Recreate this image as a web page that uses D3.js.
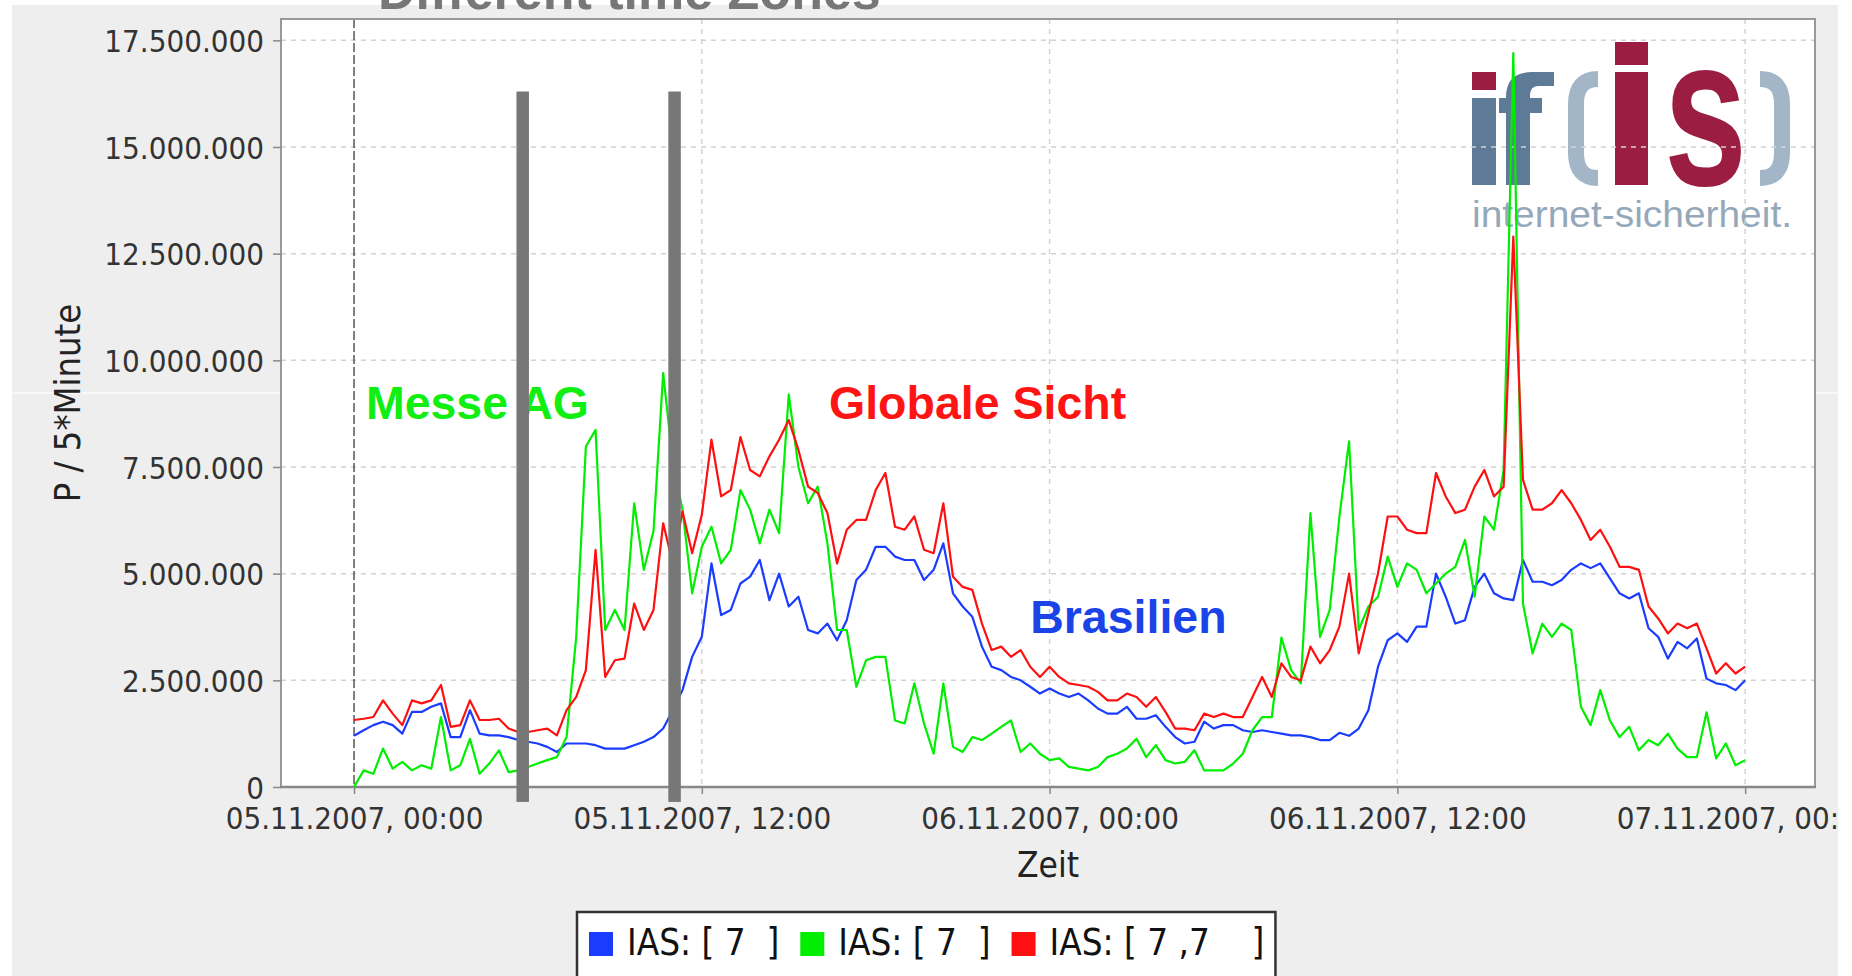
<!DOCTYPE html>
<html>
<head>
<meta charset="utf-8">
<script src="https://cdn.jsdelivr.net/npm/d3@7"></script>
<style>
  html, body { margin: 0; padding: 0; background: #fff; }
  svg { display: block; }
  .cond { font-family: "DejaVu Sans Condensed", "DejaVu Sans", sans-serif; font-stretch: condensed; }
</style>
</head>
<body>
<svg id="chart" width="1852" height="976"></svg>
<script>
// Samples every 20 minutes starting 05.11.2007 00:00, values in millions of packets per 5 minutes
const startTime = Date.UTC(2007, 10, 5, 0, 0);
const stepMinutes = 20;

const brasilien = [
  1.20, 1.33, 1.45, 1.53, 1.45, 1.25, 1.76, 1.76, 1.88, 1.96, 1.17, 1.17, 1.80, 1.25, 1.21, 1.21,
  1.17, 1.10, 1.06, 1.02, 0.94, 0.82, 1.02, 1.02, 1.02, 0.98, 0.90, 0.90, 0.90, 0.98, 1.06, 1.17,
  1.37, 1.80, 2.27, 3.05, 3.52, 5.24, 4.03, 4.15, 4.77, 4.93, 5.32, 4.38, 5.00, 4.23, 4.46, 3.68,
  3.60, 3.83, 3.44, 3.91, 4.85, 5.09, 5.63, 5.63, 5.40, 5.32, 5.32, 4.85, 5.09, 5.71, 4.54, 4.23,
  3.99, 3.29, 2.82, 2.74, 2.58, 2.50, 2.35, 2.19, 2.31, 2.19, 2.11, 2.19, 2.03, 1.84, 1.72, 1.72,
  1.88, 1.60, 1.60, 1.68, 1.41, 1.17, 1.02, 1.06, 1.53, 1.37, 1.45, 1.45, 1.33, 1.29, 1.33, 1.29,
  1.25, 1.21, 1.21, 1.17, 1.10, 1.10, 1.27, 1.20, 1.37, 1.80, 2.82, 3.44, 3.60, 3.40, 3.76, 3.76,
  5.00, 4.46, 3.83, 3.91, 4.69, 5.00, 4.54, 4.42, 4.38, 5.32, 4.81, 4.81, 4.73, 4.85, 5.09, 5.24,
  5.13, 5.24, 4.89, 4.54, 4.42, 4.54, 3.72, 3.52, 3.01, 3.40, 3.25, 3.48, 2.54, 2.43, 2.39, 2.27,
  2.50
];

const messeAG = [
  0.00, 0.39, 0.31, 0.90, 0.43, 0.59, 0.39, 0.51, 0.43, 1.64, 0.39, 0.51, 1.13, 0.31, 0.55, 0.86,
  0.35, 0.39, 0.47, 0.55, 0.63, 0.70, 1.17, 3.52, 7.98, 8.37, 3.68, 4.15, 3.68, 6.65, 5.09, 6.00,
  9.70, 7.60, 6.50, 4.54, 5.63, 6.10, 5.24, 5.56, 6.96, 6.50, 5.71, 6.50, 5.95, 9.20, 7.50, 6.65,
  7.04, 5.71, 3.68, 3.68, 2.35, 2.97, 3.05, 3.05, 1.56, 1.49, 2.43, 1.49, 0.78, 2.43, 0.94, 0.82,
  1.17, 1.10, 1.25, 1.41, 1.56, 0.82, 1.02, 0.78, 0.63, 0.67, 0.47, 0.43, 0.39, 0.47, 0.70, 0.78,
  0.90, 1.13, 0.70, 0.98, 0.63, 0.55, 0.59, 0.86, 0.39, 0.39, 0.39, 0.55, 0.78, 1.33, 1.64, 1.64,
  3.50, 2.74, 2.43, 6.42, 3.52, 4.15, 6.34, 8.10, 3.68, 4.23, 4.46, 5.40, 4.69, 5.24, 5.09, 4.54,
  4.77, 5.00, 5.16, 5.79, 4.46, 6.34, 6.03, 7.43, 17.20, 4.30, 3.13, 3.83, 3.52, 3.83, 3.68, 1.88,
  1.45, 2.27, 1.56, 1.17, 1.41, 0.86, 1.10, 0.98, 1.25, 0.90, 0.70, 0.70, 1.75, 0.67, 1.02, 0.51,
  0.63
];

const globaleSicht = [
  1.57, 1.60, 1.64, 2.03, 1.72, 1.45, 2.03, 1.96, 2.03, 2.39, 1.41, 1.45, 2.03, 1.57, 1.57, 1.60,
  1.37, 1.29, 1.29, 1.33, 1.37, 1.21, 1.80, 2.11, 2.74, 5.56, 2.58, 2.97, 3.01, 4.30, 3.68, 4.15,
  6.18, 5.24, 6.46, 5.48, 6.38, 8.14, 6.81, 6.96, 8.20, 7.43, 7.28, 7.75, 8.14, 8.60, 7.90, 7.04,
  6.89, 6.42, 5.24, 6.03, 6.26, 6.26, 6.96, 7.36, 6.10, 6.03, 6.34, 5.56, 5.48, 6.65, 4.93, 4.69,
  4.62, 3.83, 3.21, 3.29, 3.05, 3.21, 2.82, 2.58, 2.82, 2.58, 2.43, 2.39, 2.35, 2.23, 2.03, 2.03,
  2.19, 2.11, 1.88, 2.11, 1.76, 1.37, 1.37, 1.33, 1.72, 1.64, 1.72, 1.64, 1.64, 2.11, 2.58, 2.11,
  2.90, 2.58, 2.50, 3.29, 2.90, 3.21, 3.76, 5.00, 3.13, 4.07, 5.01, 6.34, 6.34, 6.03, 5.95, 5.95,
  7.36, 6.81, 6.42, 6.50, 7.04, 7.43, 6.81, 7.04, 12.90, 7.20, 6.50, 6.50, 6.65, 6.96, 6.65, 6.26,
  5.79, 6.03, 5.63, 5.16, 5.16, 5.09, 4.23, 3.95, 3.60, 3.83, 3.72, 3.83, 3.25, 2.66, 2.90, 2.66,
  2.82
];

const seriesNames = ["IAS: [ 7  ]", "IAS: [ 7  ]", "IAS: [ 7 ,7    ]"];
const seriesColors = ["#1a3cff", "#00ee00", "#ff1010"];

const yTicks = [0, 2500000, 5000000, 7500000, 10000000, 12500000, 15000000, 17500000];
const xTickHours = [0, 12, 24, 36, 48];

// hand-drawn annotations on the slide (hours since start, values in millions)
const labels = [
  { text: "Messe AG", hour: 0.41, value: 8.62, color: "#11ee11" },
  { text: "Globale Sicht", hour: 16.39, value: 8.62, color: "#ff1414" },
  { text: "Brasilien", hour: 23.33, value: 3.61, color: "#1a44e8" }
];
const markerBars = [
  { hour: 5.82, top: 16.3, bottom: -0.35 },
  { hour: 11.06, top: 16.3, bottom: -0.35 }
];

const W = 1852, H = 976;
const plot = { left: 281, right: 1815, top: 19, bottom: 787 };
const hourMs = 3600 * 1000;

const de = d3.formatLocale({ decimal: ",", thousands: ".", grouping: [3], currency: ["", "€"] });
const yFmt = de.format(",d");
const xFmt = d3.utcFormat("%d.%m.%Y, %H:%M");

const svg = d3.select("#chart");
svg.append("rect").attr("width", W).attr("height", H).attr("fill", "#fff");

svg.append("defs").append("clipPath").attr("id", "panelClip")
  .append("rect").attr("x", 12).attr("y", 5).attr("width", 1826).attr("height", H - 5);

const g = svg.append("g").attr("clip-path", "url(#panelClip)");
g.append("rect").attr("x", 12).attr("y", 5).attr("width", 1826).attr("height", H - 5).attr("fill", "#eeeeee");
// faint scan seam across the margins
g.append("line").attr("x1", 12).attr("x2", 1838).attr("y1", 393).attr("y2", 393)
  .attr("stroke", "#fbfbfb").attr("stroke-width", 1.5);

const x = d3.scaleUtc()
  .domain([new Date(startTime - 2.52 * hourMs), new Date(startTime + 50.41 * hourMs)])
  .range([plot.left, plot.right]);
const y = d3.scaleLinear().domain([0, 18]).range([plot.bottom, plot.top]);
const hourX = h => x(new Date(startTime + h * hourMs));

g.append("rect")
  .attr("x", plot.left).attr("y", plot.top)
  .attr("width", plot.right - plot.left).attr("height", plot.bottom - plot.top)
  .attr("fill", "#fff");

// if(is) logo in the plot corner
const logo = g.append("g");
const steel = "#5d7a97", light = "#a3b6c7", maroon = "#9b1d42";
logo.append("rect").attr("x", 1472).attr("y", 72).attr("width", 24).attr("height", 18).attr("fill", maroon);
logo.append("rect").attr("x", 1472).attr("y", 98).attr("width", 24).attr("height", 87).attr("fill", steel);
logo.append("path")
  .attr("d", "M1506,185 L1506,97 Q1506,72 1532,72 L1554,72 L1554,86 L1538,86 Q1530,86 1530,96 L1530,98 L1542,98 L1542,113 L1530,113 L1530,185 Z M1499,98 L1506,98 L1506,113 L1499,113 Z")
  .attr("fill", steel);
logo.append("path").attr("d", "M1598,79 Q1576,79 1576,104 L1576,153 Q1576,178 1598,178")
  .attr("fill", "none").attr("stroke", light).attr("stroke-width", 16);
logo.append("rect").attr("x", 1615).attr("y", 42).attr("width", 33).attr("height", 23).attr("fill", maroon);
logo.append("rect").attr("x", 1615).attr("y", 72).attr("width", 33).attr("height", 113).attr("fill", maroon);
logo.append("text").attr("x", 1664).attr("y", 185)
  .attr("font-family", "Liberation Sans, Arial, sans-serif").attr("font-weight", "bold")
  .attr("font-size", 214).attr("textLength", 83).attr("lengthAdjust", "spacingAndGlyphs")
  .attr("fill", maroon).text("s");
logo.append("path").attr("d", "M1760,79 Q1782,79 1782,104 L1782,153 Q1782,178 1760,178")
  .attr("fill", "none").attr("stroke", light).attr("stroke-width", 16);
logo.append("text").attr("x", 1472).attr("y", 227)
  .attr("font-family", "Liberation Sans, Arial, sans-serif").attr("font-size", 36)
  .attr("textLength", 320).attr("lengthAdjust", "spacingAndGlyphs")
  .attr("fill", "#95a8ba").text("internet-sicherheit.");

// grid
g.append("g").selectAll("line").data(yTicks.filter(d => d > 0)).join("line")
  .attr("x1", plot.left).attr("x2", plot.right)
  .attr("y1", d => y(d / 1e6)).attr("y2", d => y(d / 1e6))
  .attr("stroke", "#d2d2d2").attr("stroke-width", 1.5).attr("stroke-dasharray", "5,5");
g.append("g").selectAll("line").data(xTickHours).join("line")
  .attr("x1", d => hourX(d)).attr("x2", d => hourX(d))
  .attr("y1", plot.top).attr("y2", plot.bottom)
  .attr("stroke", (d, i) => i === 0 ? "#555" : "#d2d2d2")
  .attr("stroke-width", 1.5)
  .attr("stroke-dasharray", (d, i) => i === 0 ? "9,3" : "5,5");

// plot frame
g.append("rect")
  .attr("x", plot.left).attr("y", plot.top)
  .attr("width", plot.right - plot.left).attr("height", plot.bottom - plot.top)
  .attr("fill", "none").attr("stroke", "#999").attr("stroke-width", 2);

// axes
const yAxis = d3.axisLeft(y).tickValues(yTicks.map(d => d / 1e6))
  .tickFormat(d => yFmt(Math.round(d * 1e6))).tickSize(8).tickPadding(9);
const yAxisG = g.append("g").attr("transform", `translate(${plot.left},0)`).call(yAxis);
yAxisG.select(".domain").remove();
yAxisG.selectAll(".tick line").attr("stroke", "#888").attr("stroke-width", 1.5);
yAxisG.selectAll(".tick text").attr("class", "cond").attr("font-size", 31).attr("fill", "#333").attr("dy", "0.36em");

const xAxis = d3.axisBottom(x).tickValues(xTickHours.map(h => new Date(startTime + h * hourMs)))
  .tickFormat(xFmt).tickSize(7).tickPadding(13);
const xAxisG = g.append("g").attr("transform", `translate(0,${plot.bottom})`).call(xAxis);
xAxisG.select(".domain").remove();
xAxisG.selectAll(".tick line").attr("stroke", "#888").attr("stroke-width", 1.5);
xAxisG.selectAll(".tick text").attr("class", "cond").attr("font-size", 31).attr("fill", "#333");

g.append("line").attr("x1", plot.left - 1).attr("x2", plot.right + 1)
  .attr("y1", plot.bottom).attr("y2", plot.bottom)
  .attr("stroke", "#888").attr("stroke-width", 2.5);

g.append("text").attr("class", "cond")
  .attr("x", (plot.left + plot.right) / 2).attr("y", 877)
  .attr("text-anchor", "middle").attr("font-size", 35).attr("fill", "#222").text("Zeit");
g.append("text").attr("class", "cond")
  .attr("transform", `translate(80,${(plot.top + plot.bottom) / 2}) rotate(-90)`)
  .attr("text-anchor", "middle").attr("font-size", 36).attr("fill", "#222").text("P / 5*Minute");

// series
const toPoints = arr => arr.map((v, i) => ({ t: new Date(startTime + i * stepMinutes * 60000), v }));
const line = d3.line().x(d => x(d.t)).y(d => y(d.v));
const series = [brasilien, messeAG, globaleSicht];
const lineG = g.append("g").attr("fill", "none").attr("stroke-width", 2.2).attr("stroke-linejoin", "round");
series.forEach((arr, i) => {
  lineG.append("path").datum(toPoints(arr)).attr("stroke", seriesColors[i]).attr("d", line);
});

// annotation labels and marker bars
g.append("g").selectAll("text").data(labels).join("text")
  .attr("x", d => hourX(d.hour)).attr("y", d => y(d.value))
  .attr("font-family", "Liberation Sans, Arial, sans-serif").attr("font-weight", "bold")
  .attr("font-size", 46.5).attr("fill", d => d.color).text(d => d.text);

g.append("g").selectAll("rect").data(markerBars).join("rect")
  .attr("x", d => hourX(d.hour) - 6.25).attr("width", 12.5)
  .attr("y", d => y(d.top)).attr("height", d => y(d.bottom) - y(d.top))
  .attr("fill", "#777");

// legend
const legend = g.append("g");
const legendBox = legend.append("rect").attr("x", 577).attr("y", 912).attr("height", 90)
  .attr("fill", "#fff").attr("stroke", "#333").attr("stroke-width", 2.5);
let lx = 589;
seriesNames.forEach((name, i) => {
  legend.append("rect").attr("x", lx).attr("y", 932).attr("width", 24).attr("height", 24).attr("fill", seriesColors[i]);
  const t = legend.append("text").attr("class", "cond").attr("x", lx + 38).attr("y", 955)
    .attr("font-size", 36.5).attr("fill", "#111").style("white-space", "pre").text(name);
  lx += 38 + t.node().getComputedTextLength() + 21;
});
legendBox.attr("width", lx - 21 + 11 - 577);

// slide title, cut off at the top edge
svg.append("text").attr("x", 378).attr("y", 9)
  .attr("font-family", "Liberation Sans, Arial, sans-serif").attr("font-weight", "bold")
  .attr("font-size", 52).attr("fill", "#777").text("Different time Zones");
</script>
</body>
</html>
